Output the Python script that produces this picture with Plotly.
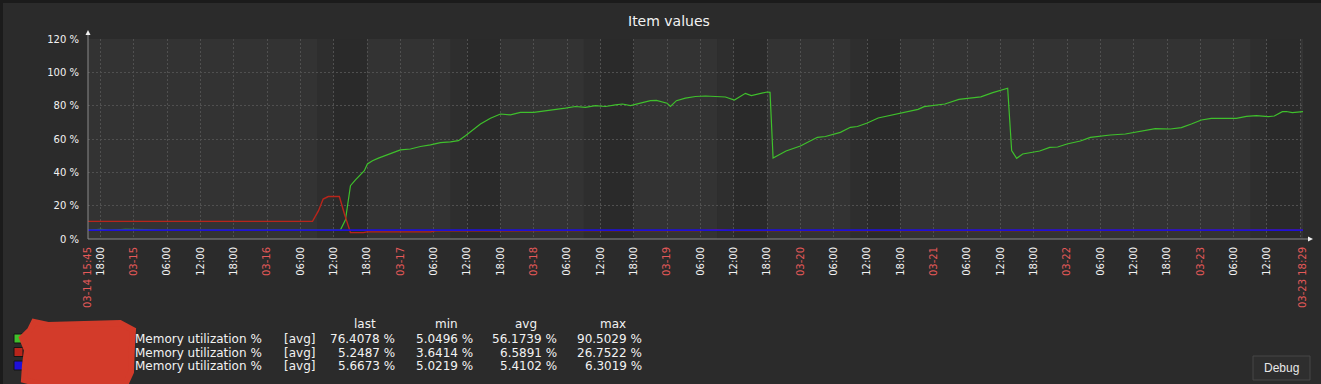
import plotly.graph_objects as go
import pandas as pd

# ---------------- data ----------------
start_time = "2026-03-14 15:45"
end_time = "2026-03-23 18:29"

green_t = [
    "2026-03-14 15:45", "2026-03-14 18:00", "2026-03-14 19:48", "2026-03-14 22:30", "2026-03-15 02:06",
    "2026-03-15 04:48", "2026-03-15 12:00", "2026-03-16 00:00", "2026-03-16 12:00",
    "2026-03-16 13:12", "2026-03-16 14:06", "2026-03-16 15:00", "2026-03-16 15:54", "2026-03-16 16:48",
    "2026-03-16 17:30", "2026-03-16 18:03", "2026-03-16 18:58", "2026-03-16 20:02", "2026-03-16 21:18",
    "2026-03-16 22:42",
    "2026-03-17 00:00", "2026-03-17 01:48", "2026-03-17 03:36", "2026-03-17 05:24", "2026-03-17 07:12",
    "2026-03-17 09:00", "2026-03-17 10:26", "2026-03-17 11:42", "2026-03-17 12:58", "2026-03-17 14:24",
    "2026-03-17 16:12", "2026-03-17 18:00", "2026-03-17 19:48", "2026-03-17 21:36",
    "2026-03-18 00:00", "2026-03-18 02:06", "2026-03-18 03:54", "2026-03-18 05:42", "2026-03-18 07:30",
    "2026-03-18 09:18", "2026-03-18 11:06", "2026-03-18 12:54", "2026-03-18 14:42", "2026-03-18 15:58",
    "2026-03-18 17:24", "2026-03-18 19:12", "2026-03-18 21:00", "2026-03-18 22:05",
    "2026-03-19 00:00", "2026-03-19 00:36", "2026-03-19 01:41", "2026-03-19 03:18", "2026-03-19 05:06",
    "2026-03-19 06:54", "2026-03-19 08:42", "2026-03-19 10:30", "2026-03-19 12:07", "2026-03-19 14:06",
    "2026-03-19 15:10", "2026-03-19 16:37", "2026-03-19 18:00", "2026-03-19 18:32", "2026-03-19 19:05",
    "2026-03-19 21:25",
    "2026-03-20 00:00", "2026-03-20 03:04", "2026-03-20 04:30", "2026-03-20 07:12", "2026-03-20 09:00",
    "2026-03-20 10:16", "2026-03-20 12:02", "2026-03-20 14:00", "2026-03-20 17:35", "2026-03-20 21:11",
    "2026-03-20 22:16",
    "2026-03-21 02:01", "2026-03-21 04:32", "2026-03-21 07:46", "2026-03-21 08:29", "2026-03-21 10:38",
    "2026-03-21 12:58", "2026-03-21 13:19", "2026-03-21 14:02", "2026-03-21 14:56", "2026-03-21 16:01",
    "2026-03-21 19:05", "2026-03-21 20:53", "2026-03-21 22:19",
    "2026-03-22 00:00", "2026-03-22 02:24", "2026-03-22 04:12", "2026-03-22 06:00", "2026-03-22 07:48",
    "2026-03-22 10:30", "2026-03-22 13:12", "2026-03-22 15:54", "2026-03-22 18:36", "2026-03-22 20:35",
    "2026-03-22 22:23",
    "2026-03-23 00:11", "2026-03-23 01:59", "2026-03-23 06:29", "2026-03-23 08:17", "2026-03-23 10:05",
    "2026-03-23 12:14", "2026-03-23 13:19", "2026-03-23 14:46", "2026-03-23 15:29", "2026-03-23 16:34",
    "2026-03-23 18:29",
]
green_v = [
    5.3, 5.8, 5.4, 5.8, 5.7, 5.3, 5.3, 5.3, 5.2,
    5.5, 11.5, 32, 35.5, 38.5, 41, 45, 47, 48.5, 50, 52,
    53.5, 54, 55.5, 56.5, 57.8, 58.3, 59, 62, 65.5, 69, 72.5, 75, 74.5, 76,
    76, 76.8, 77.8, 78.5, 79.5, 79, 80, 79.5, 80.5, 81, 80, 81.5, 83, 83.2,
    81.5, 79.5, 83, 84.5, 85.5, 85.8, 85.6, 85.2, 83.4, 87.4, 86, 87, 88.2, 88, 48.6, 52.8,
    55.8, 61, 61.5, 64, 67, 67.5, 69.6, 72.6, 75.4, 77.8, 79.4,
    81, 83.8, 85.4, 85.3, 87.8, 89.8, 90.5, 53, 48.4, 51, 52.8, 55, 55.2,
    57, 58.8, 61, 61.8, 62.4, 63, 64.8, 66.2, 66, 66.8, 69,
    71.4, 72.4, 72.4, 73.6, 74, 73.4, 73.8, 76.4, 76.5, 75.8, 76.4,
]

red_t = [
    "2026-03-14 15:45", "2026-03-16 08:10", "2026-03-16 09:15", "2026-03-16 10:05", "2026-03-16 11:00",
    "2026-03-16 13:00", "2026-03-16 13:55", "2026-03-16 15:00", "2026-03-16 17:20", "2026-03-16 18:00",
    "2026-03-17 05:25", "2026-03-17 06:20", "2026-03-18 06:00", "2026-03-19 06:00", "2026-03-19 09:00",
    "2026-03-19 12:00", "2026-03-20 12:00", "2026-03-21 12:00", "2026-03-22 12:00", "2026-03-23 18:29",
]
red_v = [10.6, 10.6, 17, 24, 25.5, 25.5, 15, 3.8, 3.8, 4.3,
         4.3, 4.9, 5.0, 5.0, 5.6, 5.0, 5.0, 5.0, 5.0, 5.25]

blue_t = ["2026-03-14 15:45", "2026-03-16 00:00", "2026-03-18 00:00", "2026-03-20 00:00",
          "2026-03-22 00:00", "2026-03-23 18:29"]
blue_v = [5.3, 5.3, 5.3, 5.3, 5.3, 5.35]

series_colors = ["#3fc02c", "#b8251b", "#1f10d8"]
series_label = "Memory utilization %"
series_func = "[avg]"
legend_last = [76.4078, 5.2487, 5.6673]
legend_min = [5.0496, 3.6414, 5.0219]
legend_avg = [56.1739, 6.5891, 5.4102]
legend_max = [90.5029, 26.7522, 6.3019]

# working-time bands (darker background)
work_days = ["2026-03-16", "2026-03-17", "2026-03-18", "2026-03-19", "2026-03-20", "2026-03-23"]

y_ticks = [0, 20, 40, 60, 80, 100, 120]

# ---------------- layout helpers ----------------
W, H = 1321, 384
L, R, T, B = 88, 1303, 39, 239
FONT = "DejaVu Sans"
RED = "#e45959"
TXT = "#f2f2f2"


def fx(x):
    return (x - L) / (R - L)


def fy(y):
    return (B - y) / (B - T)


fig = go.Figure()
for t, v, c, w in [(green_t, green_v, series_colors[0], 1.2),
                   (red_t, red_v, series_colors[1], 1.4),
                   (blue_t, blue_v, series_colors[2], 1.8)]:
    fig.add_trace(go.Scatter(x=pd.to_datetime(t), y=v, mode="lines",
                             line=dict(color=c, width=w), showlegend=False,
                             hoverinfo="x+y"))

# x ticks
tick_times = pd.date_range("2026-03-14 18:00", "2026-03-23 18:00", freq="6h")
tickvals = [pd.Timestamp(start_time)]
ticktext = [f'<span style="color:{RED}">03-14 15:45</span>']
for tt in tick_times:
    tickvals.append(tt)
    if tt == pd.Timestamp("2026-03-23 18:00"):
        ticktext.append("")
    elif tt.hour == 0:
        ticktext.append(f'<span style="color:{RED}">{tt.strftime("%m-%d")}</span>')
    else:
        ticktext.append(tt.strftime("%H:%M"))
tickvals.append(pd.Timestamp(end_time))
ticktext.append(f'<span style="color:{RED}">03-23 18:29</span>')

shapes = []
for d in work_days:
    shapes.append(dict(type="rect", xref="x", yref="paper", x0=f"{d} 09:00", x1=f"{d} 12:00",
                       y0=0, y1=1, fillcolor="#2e2e2e", line=dict(width=0), layer="below"))
    shapes.append(dict(type="rect", xref="x", yref="paper", x0=f"{d} 12:00", x1=f"{d} 18:00",
                       y0=0, y1=1, fillcolor="#2a2a2a", line=dict(width=0), layer="below"))

# frame borders of the widget
shapes.append(dict(type="rect", xref="paper", yref="paper", x0=fx(0), x1=fx(W), y0=fy(0), y1=fy(3),
                   fillcolor="#1b1b1b", line=dict(width=0), layer="above"))
shapes.append(dict(type="rect", xref="paper", yref="paper", x0=fx(0), x1=fx(3), y0=fy(0), y1=fy(H),
                   fillcolor="#1b1b1b", line=dict(width=0), layer="above"))

# axes lines and arrows
AX = "#8a8a8a"
shapes.append(dict(type="line", xref="paper", yref="paper", x0=0, x1=0, y0=0, y1=fy(34),
                   line=dict(color=AX, width=1)))
shapes.append(dict(type="line", xref="paper", yref="paper", x0=0, x1=fx(1310), y0=0, y1=0,
                   line=dict(color=AX, width=1)))
shapes.append(dict(type="path", xref="paper", yref="paper",
                   path=f"M {fx(85.5)} {fy(35)} L {fx(90.5)} {fy(35)} L {fx(88)} {fy(30)} Z",
                   fillcolor="#f0f0f0", line=dict(width=0)))
shapes.append(dict(type="path", xref="paper", yref="paper",
                   path=f"M {fx(1308)} {fy(236.5)} L {fx(1308)} {fy(241.5)} L {fx(1313)} {fy(239)} Z",
                   fillcolor="#f0f0f0", line=dict(width=0)))

# legend colour squares
for i, c in enumerate(series_colors):
    y0 = 334 + i * 13.5
    shapes.append(dict(type="rect", xref="paper", yref="paper", x0=fx(14), x1=fx(23),
                       y0=fy(y0 + 9), y1=fy(y0), fillcolor=c, line=dict(color="#151515", width=1)))

# redaction blob over series names
blob = [(30, 330), (34, 322), (48, 325), (120, 323), (133, 330), (132, 345), (131, 372),
        (126, 383), (110, 384), (40, 384), (24, 380), (25, 365), (27, 350), (22, 338)]
p = "M " + " L ".join(f"{fx(a)} {fy(b)}" for a, b in blob) + " Z"
shapes.append(dict(type="path", xref="paper", yref="paper", path=p, fillcolor="#d33b2a",
                   line=dict(color="#d33b2a", width=6)))

# Debug button
shapes.append(dict(type="rect", xref="paper", yref="paper", x0=fx(1253), x1=fx(1310),
                   y0=fy(380), y1=fy(356), fillcolor="#2e2e2e", line=dict(color="#474747", width=1)))

ann = []
ann.append(dict(text="Item values", x=fx(669), y=fy(21), xref="paper", yref="paper",
                showarrow=False, xanchor="center", yanchor="middle",
                font=dict(family=FONT, size=14, color=TXT)))
# legend header
for lbl, cx in [("last", 365), ("min", 446), ("avg", 526), ("max", 613)]:
    ann.append(dict(text=lbl, x=fx(cx), y=fy(324), xref="paper", yref="paper", showarrow=False,
                    xanchor="center", yanchor="middle", font=dict(family=FONT, size=12, color=TXT)))
for i in range(3):
    yc = 339 + i * 13.7
    ann.append(dict(text=series_label, x=fx(133), y=fy(yc), xref="paper", yref="paper", showarrow=False,
                    xanchor="left", yanchor="middle", font=dict(family=FONT, size=12, color=TXT)))
    ann.append(dict(text=series_func, x=fx(282), y=fy(yc), xref="paper", yref="paper", showarrow=False,
                    xanchor="left", yanchor="middle", font=dict(family=FONT, size=12, color=TXT)))
    for vals, rx in [(legend_last, 397), (legend_min, 475), (legend_avg, 559), (legend_max, 644)]:
        ann.append(dict(text=f"{vals[i]:.4f} %", x=fx(rx), y=fy(yc), xref="paper", yref="paper",
                        showarrow=False, xanchor="right", yanchor="middle",
                        font=dict(family=FONT, size=12, color=TXT)))
ann.append(dict(text="Debug", x=fx(1281.5), y=fy(368), xref="paper", yref="paper", showarrow=False,
                xanchor="center", yanchor="middle",
                font=dict(family="Liberation Sans", size=12, color="#e8e8e8")))

GRID = "#505050"
fig.update_layout(
    width=W, height=H, autosize=False,
    margin=dict(l=L, r=W - R, t=T, b=H - B, pad=0),
    paper_bgcolor="#2b2b2b", plot_bgcolor="#333333",
    shapes=shapes, annotations=ann, showlegend=False,
    xaxis=dict(type="date", range=[start_time, end_time], tickmode="array", tickvals=tickvals,
               ticktext=ticktext, tickangle=-90, showgrid=True, gridcolor=GRID, griddash="2px,2px",
               gridwidth=1, zeroline=False, showline=False, ticks="", ticklabelstandoff=5,
               tickfont=dict(family=FONT, size=10, color=TXT)),
    yaxis=dict(range=[0, 120], tickmode="array", tickvals=y_ticks,
               ticktext=[f"{v} %" for v in y_ticks], showgrid=True, gridcolor=GRID,
               griddash="2px,2px", gridwidth=1, zeroline=False, showline=False, ticks="",
               ticklabelstandoff=8, tickfont=dict(family=FONT, size=10, color=TXT)),
)

fig.write_html("out.html", config={"displayModeBar": False},
               post_script="document.body.style.margin='0';document.body.style.overflow='hidden';")
